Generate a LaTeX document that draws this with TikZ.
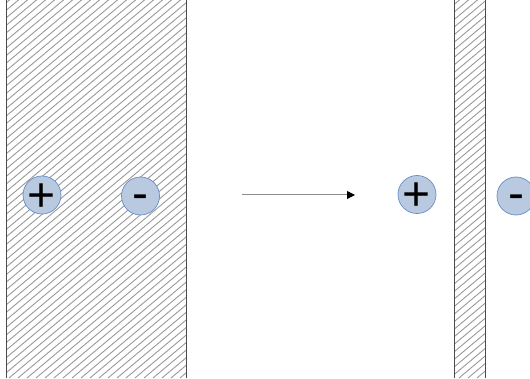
\documentclass[tikz,border=0pt]{standalone}
\usepackage{fontspec}
\setsansfont{Liberation Sans}
\usetikzlibrary{arrows.meta}
\newcommand{\ionsign}[2]{\makebox[0pt]{\smash{\raisebox{#2}{#1}}}}
\begin{document}
\begin{tikzpicture}[x=1pt,y=1pt,
  hatch/.style={draw=black!40,line width=0.9pt},
  edge/.style={draw=black!70,line width=0.9pt},
  ion/.style={circle,minimum size=38pt,inner sep=0pt,fill={rgb,255:red,185;green,202;blue,224},draw={rgb,255:red,100;green,140;blue,200},line width=0.7pt,font=\sffamily\fontsize{48}{48}\selectfont}]
\useasboundingbox (0,0) rectangle (530,378);
\begin{scope}
\clip (6,0) rectangle (186,378);
\foreach \x in {-468,-459,...,190} \draw[hatch] (\x,0) -- ++(40:620);
\end{scope}
\begin{scope}
\clip (454,0) rectangle (485,378);
\foreach \x in {0,9,...,490} \draw[hatch] (\x,0) -- ++(40:620);
\end{scope}
\draw[edge] (6,0) -- (6,378);
\draw[edge] (186,0) -- (186,378);
\draw[edge] (454,0) -- (454,378);
\draw[edge] (485,0) -- (485,378);
\node[ion] (p1) at (42,183) {\ionsign{+}{-16.3pt}};
\node[ion] (m1) at (140.5,182) {\ionsign{-}{-13.8pt}};
\node[ion] (p2) at (417,183.5) {\ionsign{+}{-16.3pt}};
\node[ion] (m2) at (516,182) {\ionsign{-}{-13.8pt}};
\coordinate (a1) at (242,183);
\coordinate (a2) at (355,183);
\draw[draw=black!45,line width=1pt,-{Triangle[length=8pt,width=8pt,color=black]}] (a1) -- (a2);
\end{tikzpicture}
\end{document}
